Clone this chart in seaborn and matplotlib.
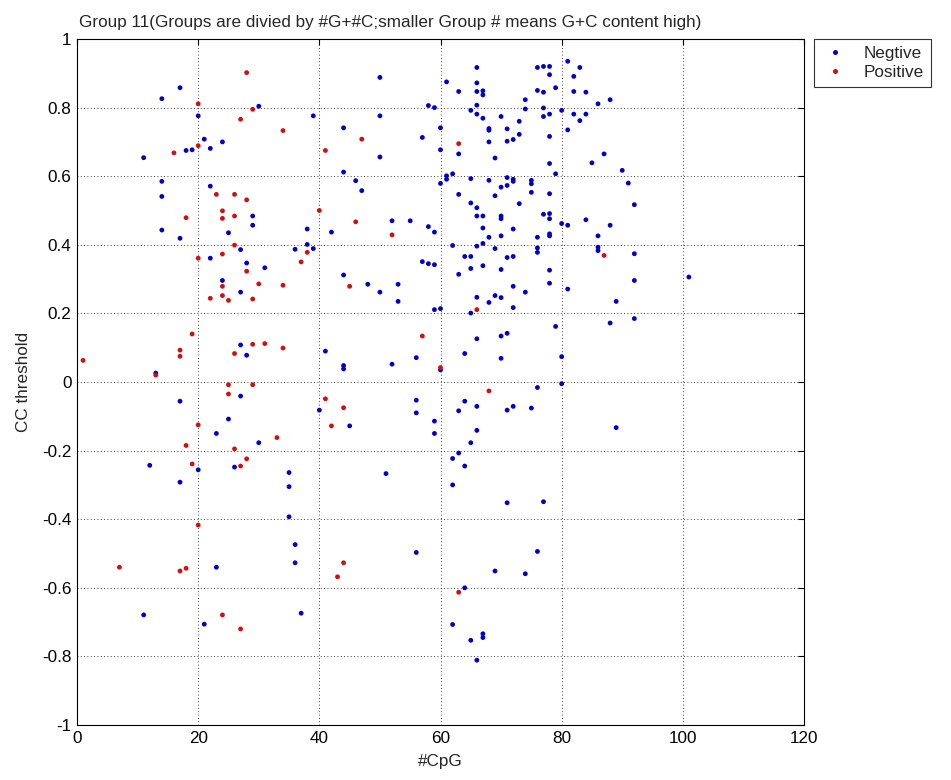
import matplotlib
matplotlib.use("Agg")
import matplotlib.pyplot as plt
from matplotlib.lines import Line2D
import numpy as np
import pandas as pd
import seaborn as sns

# ---------------- data ----------------
neg_x = [17, 14, 30, 20, 21, 24, 22, 19, 18, 11, 14, 22, 14, 29, 29, 14, 25, 17, 27,
         22, 28, 31, 24, 27, 27, 28, 13, 27, 17, 25, 23, 30,
         12, 20, 17, 26, 23, 11, 21,
         50, 61, 58, 59, 39, 50, 44, 60, 57, 60, 50, 44, 46, 47, 61, 61, 60, 52, 55, 58, 59, 38, 42, 38, 39, 36,
         44, 48, 50, 53, 53, 57, 58, 59, 59, 60, 41, 44, 44, 52, 56, 60, 40, 45, 56, 56, 59, 59,
         35, 35, 35, 51, 36, 36, 56, 37,
         66, 81, 83, 76, 77, 78, 78, 82, 66, 63, 66, 67, 67, 76, 77, 79, 82, 84, 74, 86, 88, 65, 66, 66, 67, 70,
         74, 77, 77, 78, 80, 82, 84, 83, 73, 68, 68, 71, 73, 81, 68, 71, 72, 78, 63, 69, 78, 87, 85, 90, 91, 92,
         62, 65, 68, 71, 70, 71, 72, 72, 75, 75, 75, 78, 79, 63, 69, 65, 66, 73, 66, 67, 70, 70, 77, 78, 78, 67,
         72, 80, 81, 84, 88, 68, 70, 76, 78, 78, 86, 62, 66, 67, 69, 76, 86,
         76, 86, 92, 64, 65, 71, 72, 65, 67, 70, 78, 63, 78, 72, 74, 81, 92, 66, 68, 69, 70, 72, 89, 65, 92, 88,
         79, 66, 70, 71, 64, 70, 80, 80, 76, 64, 63, 66, 71, 72, 75, 89, 66, 65, 63, 62,
         64, 62, 71, 77, 76, 69, 74, 64, 62, 67, 67, 65, 66,
         101]
neg_y = [0.858, 0.826, 0.804, 0.776, 0.708, 0.700, 0.681, 0.677, 0.675, 0.654, 0.585, 0.571, 0.541, 0.484, 0.457,
         0.443, 0.435, 0.419, 0.386,
         0.361, 0.347, 0.333, 0.296, 0.262, 0.108, 0.078, 0.026, -0.041, -0.056, -0.108, -0.150, -0.177,
         -0.243, -0.256, -0.292, -0.248, -0.540, -0.679, -0.706,
         0.888, 0.875, 0.806, 0.800, 0.776, 0.776, 0.741, 0.741, 0.713, 0.677, 0.656, 0.612, 0.587, 0.558, 0.601,
         0.591, 0.579, 0.470, 0.470, 0.453, 0.437, 0.446, 0.437, 0.401, 0.389, 0.387,
         0.312, 0.285, 0.262, 0.285, 0.235, 0.351, 0.345, 0.342, 0.211, 0.214, 0.090, 0.048, 0.038, 0.052, 0.071,
         0.035, -0.082, -0.128, -0.053, -0.090, -0.114, -0.150,
         -0.264, -0.305, -0.393, -0.267, -0.474, -0.527, -0.497, -0.674,
         0.917, 0.935, 0.917, 0.917, 0.920, 0.920, 0.896, 0.891, 0.872, 0.847, 0.847, 0.849, 0.837, 0.850, 0.845,
         0.858, 0.847, 0.845, 0.823, 0.811, 0.823, 0.792, 0.807, 0.781, 0.769, 0.774,
         0.796, 0.799, 0.774, 0.781, 0.792, 0.781, 0.781, 0.762, 0.760, 0.739, 0.734, 0.738, 0.722, 0.735, 0.700,
         0.702, 0.707, 0.716, 0.665, 0.653, 0.637, 0.665, 0.639, 0.617, 0.580, 0.517,
         0.607, 0.593, 0.588, 0.596, 0.568, 0.573, 0.591, 0.585, 0.588, 0.578, 0.553, 0.549, 0.607, 0.547, 0.543,
         0.522, 0.508, 0.520, 0.484, 0.484, 0.484, 0.476, 0.489, 0.491, 0.476, 0.449,
         0.446, 0.462, 0.457, 0.473, 0.457, 0.422, 0.426, 0.422, 0.432, 0.426, 0.426, 0.398, 0.396, 0.404, 0.389,
         0.391, 0.393,
         0.378, 0.383, 0.374, 0.366, 0.366, 0.363, 0.366, 0.331, 0.339, 0.328, 0.326, 0.314, 0.288, 0.279, 0.262,
         0.271, 0.296, 0.247, 0.232, 0.252, 0.246, 0.217, 0.235, 0.201, 0.185, 0.172,
         0.162, 0.126, 0.134, 0.142, 0.083, 0.069, 0.074, -0.005, -0.016, -0.056, -0.084, -0.071, -0.082, -0.071,
         -0.076, -0.133, -0.141, -0.177, -0.207, -0.223,
         -0.245, -0.300, -0.352, -0.349, -0.494, -0.551, -0.559, -0.600, -0.707, -0.734, -0.745, -0.753, -0.811,
         0.306]

pos_x = [28, 20, 29, 27, 20, 16, 23, 26, 28, 24, 18, 24, 26, 26,
         20, 24, 28, 24, 30, 22, 24, 25, 29, 19, 17, 17, 29, 31, 26, 1, 13, 25, 29, 25, 20, 18, 26, 28,
         19, 27, 20, 7, 17, 18, 24, 27,
         34, 47, 41, 40, 46, 52,
         38, 37, 34, 45, 34, 57, 60, 41, 44, 42, 33,
         44, 43,
         63, 87, 66, 68, 63]
pos_y = [0.902, 0.811, 0.795, 0.766, 0.689, 0.668, 0.547, 0.547, 0.531, 0.499, 0.479, 0.477, 0.484, 0.399,
         0.361, 0.373, 0.323, 0.279, 0.286, 0.244, 0.252, 0.238, 0.242, 0.140, 0.093, 0.075, 0.110, 0.112, 0.083,
         0.063, 0.020, -0.008, -0.008, -0.035, -0.125, -0.185, -0.195, -0.224,
         -0.239, -0.245, -0.417, -0.540, -0.551, -0.543, -0.679, -0.720,
         0.733, 0.708, 0.675, 0.500, 0.467, 0.429,
         0.378, 0.350, 0.282, 0.279, 0.099, 0.134, 0.042, -0.049, -0.075, -0.128, -0.162,
         -0.527, -0.568,
         0.695, 0.369, 0.211, -0.026, -0.613]

classes = ["Negtive", "Positive"]
colors = {"Negtive": "#0000c8", "Positive": "#d01010"}

x_ticks = [0, 20, 40, 60, 80, 100, 120]
y_ticks = [-1, -0.8, -0.6, -0.4, -0.2, 0, 0.2, 0.4, 0.6, 0.8, 1]
y_tick_labels = ["-1", "-0.8", "-0.6", "-0.4", "-0.2", "0", "0.2", "0.4", "0.6", "0.8", "1"]

title = "Group 11(Groups are divied by #G+#C;smaller Group # means G+C content high)"

df = pd.DataFrame({
    "cpg": neg_x + pos_x,
    "cc": neg_y + pos_y,
    "cls": [classes[0]] * len(neg_x) + [classes[1]] * len(pos_x),
})

# ---------------- plot ----------------
sns.set_style("white")
plt.rcParams["font.family"] = ["Liberation Sans", "DejaVu Sans"]

FS = 12.3
fig = plt.figure(figsize=(9.51, 7.80), dpi=100)
ax = fig.add_axes([0.081, 0.0705, 0.7644, 0.8795])

sns.scatterplot(data=df, x="cpg", y="cc", hue="cls", hue_order=classes,
                palette=colors, marker="o", s=12, linewidth=0, ax=ax, legend=False)

ax.set_xlim(0, 120)
ax.set_ylim(-1, 1)
ax.set_xticks(x_ticks)
ax.set_yticks(y_ticks)
ax.set_yticklabels(y_tick_labels)
ax.grid(True, color="black", linestyle=(0, (1, 3)), linewidth=0.6)
ax.tick_params(direction="in", top=True, right=True, length=4, labelsize=FS, colors="black", pad=4)
for sp in ax.spines.values():
    sp.set_color("black")
    sp.set_linewidth(0.8)

ax.set_xlabel("#CpG", fontsize=FS, labelpad=6)
ax.set_ylabel("CC threshold", fontsize=FS, labelpad=8)
ax.set_title(title, fontsize=FS, pad=9, loc="left", x=0.003)

handles = [Line2D([], [], marker="o", linestyle="", markersize=3.6,
                  markerfacecolor=colors[c], markeredgewidth=0) for c in classes]
leg = fig.legend(handles, classes, loc="upper left",
                 bbox_to_anchor=(814 / 951, 1 - 39 / 780), bbox_transform=fig.transFigure,
                 frameon=True, fancybox=False, edgecolor="black", fontsize=FS,
                 borderaxespad=0, handlelength=1.6, handletextpad=0.9,
                 labelspacing=0.25, borderpad=0.4)
leg.get_frame().set_linewidth(0.8)

fig.savefig("out.png", dpi=100)
